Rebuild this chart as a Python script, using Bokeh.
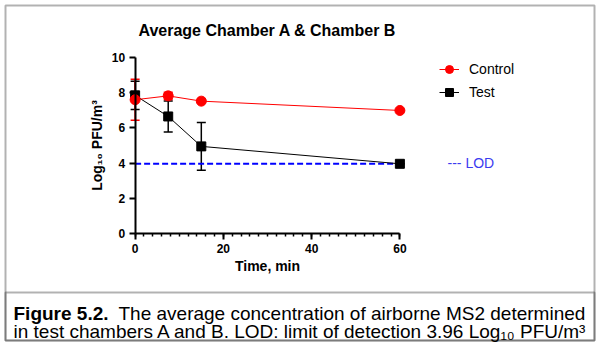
from bokeh.plotting import figure
from bokeh.models import (Range1d, FixedTicker, ColumnDataSource, Whisker, TeeHead,
                          Legend, LegendItem, Label, BoxAnnotation)
from bokeh.embed import file_html
from bokeh.resources import INLINE

# ---- data ----
time_min = [0, 7.5, 15, 60]
control_mean = [7.6, 7.82, 7.52, 6.99]
control_err = [1.17, 0.2, 0.05, 0.05]
test_mean = [7.85, 6.65, 4.95, 3.96]
test_err = [0.8, 0.88, 1.36, 0.0]
lod_value = 3.96
lod_x = [0, 60]
x_ticks = [0, 20, 40, 60]
x_minor = list(range(0, 61, 2))
y_ticks = [0, 2, 4, 6, 8, 10]

title_text = "Average Chamber A & Chamber B"
x_label = "Time, min"
y_label = "Log\u2081\u2080 PFU/m\u00b3"
caption_bold = "Figure 5.2."
caption_1 = "The average concentration of airborne MS2 determined"
caption_2 = "in test chambers A and B. LOD: limit of detection 3.96 Log\u2081\u2080 PFU/m\u00b3"

FONT = "Liberation Sans"

# ---- layout: the frame covers the whole canvas; axes are pinned at 0 ----
W, H = 602, 343
SX = 278 / 63.0          # px per minute
SY = 17.6                # px per log unit
X0PX = 128 + 1.5 * SX    # pixel of x = 0
Y0PX = 233               # pixel of y = 0


def X(px):
    return (px - X0PX) / SX


def Y(py):
    return (Y0PX - py) / SY


p = figure(width=W, height=H, x_range=Range1d(X(0), X(W)), y_range=Range1d(Y(H), Y(0)),
           output_backend="svg", toolbar_location=None, title=None, min_border=0,
           outline_line_color=None, background_fill_color="white", border_fill_color="white")
p.grid.visible = False

# axes
p.xaxis.ticker = FixedTicker(ticks=x_ticks, minor_ticks=x_minor)
p.xaxis.bounds = (0, 60)
p.xaxis.fixed_location = 0
p.yaxis.ticker = FixedTicker(ticks=y_ticks, minor_ticks=[])
p.yaxis.bounds = (0, 10)
p.yaxis.fixed_location = 0
for ax in (p.xaxis, p.yaxis):
    ax.axis_line_width = 2
    ax.axis_line_color = "black"
    ax.major_tick_line_width = 2
    ax.major_tick_line_color = "black"
    ax.major_tick_in = 0
    ax.major_tick_out = 6
    ax.minor_tick_in = 0
    ax.minor_tick_out = 3
    ax.minor_tick_line_width = 1.5
    ax.minor_tick_line_color = "black"
    ax.major_label_text_font = FONT
    ax.major_label_text_font_style = "bold"
    ax.major_label_text_font_size = "12px"
    ax.major_label_text_color = "black"
    ax.axis_label_text_font = FONT
    ax.axis_label_text_font_style = "bold"
    ax.axis_label_text_font_size = "14px"
    ax.axis_label_text_color = "black"
p.xaxis.axis_label = x_label
p.yaxis.axis_label = y_label
p.xaxis.major_label_standoff = 4
p.xaxis.axis_label_standoff = 2
p.yaxis.major_label_standoff = 4
p.yaxis.axis_label_standoff = 4

# LOD
p.line(lod_x, [lod_value, lod_value], line_color="#0000ff", line_width=2, line_dash="6 3")

# Test series
src_t = ColumnDataSource(dict(x=time_min, y=test_mean,
                              lo=[m - e for m, e in zip(test_mean, test_err)],
                              hi=[m + e for m, e in zip(test_mean, test_err)]))
wt = Whisker(source=src_t, base="x", lower="lo", upper="hi", line_color="black", line_width=1.5,
             upper_head=TeeHead(size=9, line_color="black", line_width=1.5),
             lower_head=TeeHead(size=9, line_color="black", line_width=1.5))
p.add_layout(wt)
rt_line = p.line("x", "y", source=src_t, line_color="black", line_width=1)
rt_pts = p.scatter("x", "y", source=src_t, marker="square", size=9, color="black")

# Control series
src_c = ColumnDataSource(dict(x=time_min, y=control_mean,
                              lo=[m - e for m, e in zip(control_mean, control_err)],
                              hi=[m + e for m, e in zip(control_mean, control_err)]))
wc = Whisker(source=src_c, base="x", lower="lo", upper="hi", line_color="red", line_width=1.5,
             upper_head=TeeHead(size=9, line_color="red", line_width=1.5),
             lower_head=TeeHead(size=9, line_color="red", line_width=1.5))
p.add_layout(wc)
rc_line = p.line("x", "y", source=src_c, line_color="red", line_width=1)
rc_pts = p.scatter("x", "y", source=src_c, marker="circle", size=10, color="red")

legend = Legend(items=[LegendItem(label="Control", renderers=[rc_line, rc_pts]),
                       LegendItem(label="Test", renderers=[rt_line, rt_pts])],
                location=(439, 241), padding=0, margin=0, spacing=3,
                glyph_width=20, glyph_height=20, label_standoff=10,
                label_text_font=FONT, label_text_font_size="14px", label_text_color="black",
                border_line_color=None, background_fill_alpha=0)
p.add_layout(legend)

p.add_layout(Label(x=X(447), y=Y(162), text="---  LOD", text_baseline="middle",
                   text_color="#3b3bf0", text_font=FONT, text_font_size="14px"))

# title
p.add_layout(Label(x=X(267), y=Y(30), text=title_text, text_align="center", text_baseline="middle",
                   text_font=FONT, text_font_style="bold", text_font_size="16px", text_color="black"))

# caption
p.add_layout(Label(x=X(13), y=Y(313), text=caption_bold, text_baseline="alphabetic",
                   text_font=FONT, text_font_style="bold", text_font_size="19px", text_color="black"))
p.add_layout(Label(x=X(118), y=Y(313), text=caption_1, text_baseline="alphabetic",
                   text_font=FONT, text_font_size="19px", text_color="black"))
p.add_layout(Label(x=X(13), y=Y(330.5), text=caption_2, text_baseline="alphabetic",
                   text_font=FONT, text_font_size="19px", text_color="black"))

# frame boxes
p.add_layout(BoxAnnotation(left=X(5), right=X(594), top=Y(5), bottom=Y(340),
                           fill_alpha=0, line_color="black", line_width=2, level="overlay"))
p.add_layout(BoxAnnotation(left=X(5), right=X(594), top=Y(292), bottom=Y(340),
                           fill_alpha=0, line_color="black", line_width=2, level="overlay"))

open("out.html", "w").write(file_html(p, INLINE))
